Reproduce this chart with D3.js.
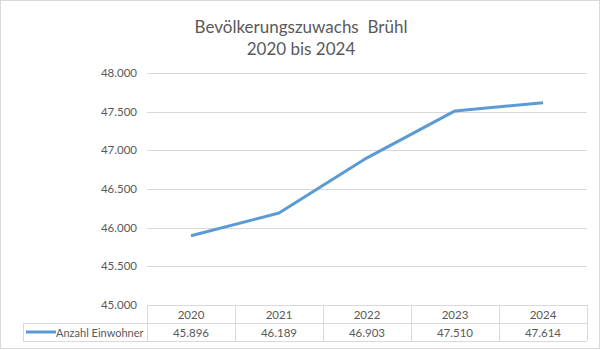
<!DOCTYPE html>
<html>
<head>
<meta charset="utf-8">
<script src="https://cdn.jsdelivr.net/npm/d3@7"></script>
<style>
  body { margin: 0; background: #fff; }
  svg { display: block; font-family: Lato, 'Open Sans', sans-serif; }
</style>
</head>
<body>
<div id="chart"></div>
<script>
const years = ['2020', '2021', '2022', '2023', '2024'];
const einwohner = [45896, 46189, 46903, 47510, 47614];
const yTicks = [45000, 45500, 46000, 46500, 47000, 47500, 48000];
const seriesName = 'Anzahl Einwohner';
const titleLines = ['Bevölkerungszuwachs  Brühl', '2020 bis 2024'];

const width = 602, height = 350;
const margin = { top: 73, right: 15, bottom: 45, left: 147 };
const textColor = '#595959';
const gridColor = '#d9d9d9';
const lineColor = '#5b9bd5';

// German number format: 48.000
const fmt = d3.formatLocale({ decimal: ',', thousands: '.', grouping: [3], currency: ['', '€'] });
const numFmt = fmt.format(',.0f');

const svg = d3.select('#chart')
  .append('svg')
  .attr('width', width)
  .attr('height', height);

// outer frame
svg.append('rect')
  .attr('x', 0.5).attr('y', 0.5)
  .attr('width', width - 3).attr('height', height - 2)
  .attr('fill', '#fff')
  .attr('stroke', gridColor);

const plotW = width - margin.left - margin.right;
const plotBottom = height - margin.bottom;

const x = d3.scaleBand()
  .domain(years)
  .range([margin.left, margin.left + plotW])
  .padding(0);

const y = d3.scaleLinear()
  .domain([45000, 48000])
  .range([plotBottom, margin.top]);

// title
svg.append('g')
  .selectAll('text')
  .data(titleLines)
  .enter()
  .append('text')
  .attr('x', 301)
  .attr('y', (d, i) => 33 + i * 22)
  .attr('text-anchor', 'middle')
  .attr('fill', textColor)
  .attr('font-size', 17)
  .style('white-space', 'pre')
  .text(d => d);

// gridlines
svg.append('g')
  .selectAll('line')
  .data(yTicks.slice(1))
  .enter()
  .append('line')
  .attr('x1', margin.left)
  .attr('x2', margin.left + plotW)
  .attr('y1', d => Math.round(y(d)) + 0.5)
  .attr('y2', d => Math.round(y(d)) + 0.5)
  .attr('stroke', gridColor)
  .attr('stroke-width', 1);

// y labels
svg.append('g')
  .selectAll('text')
  .data(yTicks)
  .enter()
  .append('text')
  .attr('x', 137)
  .attr('y', d => y(d) + 4)
  .attr('text-anchor', 'end')
  .attr('fill', textColor)
  .attr('font-size', 11.5)
  .text(numFmt);

// data line
const line = d3.line()
  .x((d, i) => x(years[i]) + x.bandwidth() / 2)
  .y(d => y(d));

svg.append('path')
  .datum(einwohner)
  .attr('d', line)
  .attr('fill', 'none')
  .attr('stroke', lineColor)
  .attr('stroke-width', 3)
  .attr('stroke-linejoin', 'round');

// data table
const rowH = 18;
const tableTop = plotBottom;
const legendLeft = 23;
const table = svg.append('g').attr('class', 'table');

// horizontal lines
[
  [margin.left, tableTop],
  [legendLeft, tableTop + rowH],
  [legendLeft, tableTop + rowH * 2]
].forEach(([x0, yy]) => {
  table.append('line')
    .attr('x1', x0).attr('x2', margin.left + plotW)
    .attr('y1', yy + 0.5).attr('y2', yy + 0.5)
    .attr('stroke', gridColor);
});

// vertical lines
const vx = years.map(d => x(d)).concat([margin.left + plotW]);
vx.forEach(xx => {
  table.append('line')
    .attr('x1', xx + 0.5).attr('x2', xx + 0.5)
    .attr('y1', tableTop).attr('y2', tableTop + rowH * 2)
    .attr('stroke', gridColor);
});
table.append('line')
  .attr('x1', legendLeft + 0.5).attr('x2', legendLeft + 0.5)
  .attr('y1', tableTop + rowH).attr('y2', tableTop + rowH * 2)
  .attr('stroke', gridColor);

// header years
table.selectAll('.yr')
  .data(years)
  .enter()
  .append('text')
  .attr('class', 'yr')
  .attr('x', d => x(d) + x.bandwidth() / 2)
  .attr('y', tableTop + 13.5)
  .attr('text-anchor', 'middle')
  .attr('fill', textColor)
  .attr('font-size', 11.5)
  .text(d => d);

// values
table.selectAll('.val')
  .data(einwohner)
  .enter()
  .append('text')
  .attr('class', 'val')
  .attr('x', (d, i) => x(years[i]) + x.bandwidth() / 2)
  .attr('y', tableTop + rowH + 13.5)
  .attr('text-anchor', 'middle')
  .attr('fill', textColor)
  .attr('font-size', 11.5)
  .text(numFmt);

// legend key
table.append('line')
  .attr('x1', 26).attr('x2', 56)
  .attr('y1', tableTop + rowH + 9).attr('y2', tableTop + rowH + 9)
  .attr('stroke', lineColor)
  .attr('stroke-width', 3);

table.append('text')
  .attr('x', 56)
  .attr('y', tableTop + rowH + 13.5)
  .attr('fill', textColor)
  .attr('font-size', 11)
  .text(seriesName);
</script>
</body>
</html>
